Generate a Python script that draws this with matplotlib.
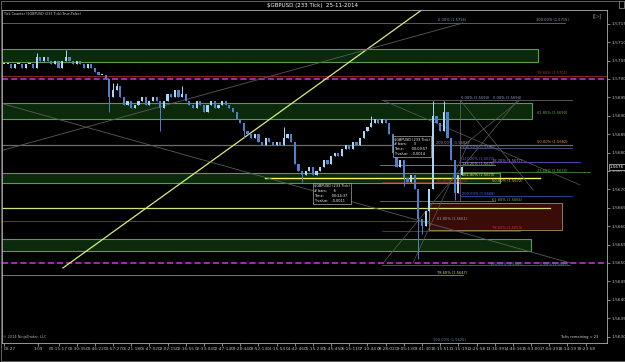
import matplotlib
matplotlib.use('Agg')
import matplotlib.pyplot as plt
from matplotlib.patches import Rectangle

# 233-tick bar closes, GBPUSD 25-11-2014
closes = [
    1.5704, 1.5704, 1.5703, 1.5704, 1.5704, 1.5703, 1.5704, 1.5704, 1.5703,
    1.5706, 1.5705, 1.5706, 1.5705, 1.5704, 1.5705, 1.5703, 1.5705, 1.5706,
    1.5705, 1.5704, 1.5705, 1.5704, 1.5703, 1.5704, 1.5703,
    1.5702, 1.5701, 1.5701, 1.5700,
    1.5695, 1.5697, 1.5698, 1.5695, 1.5693, 1.5694,
    1.5692, 1.5693, 1.5694, 1.5695, 1.5693, 1.5694, 1.5695, 1.5694, 1.5692,
    1.5694, 1.5696, 1.5695, 1.5697, 1.5695, 1.5696, 1.5694,
    1.5693, 1.5692, 1.5694, 1.5693, 1.5691, 1.5693, 1.5694, 1.5692, 1.5693,
    1.5694, 1.5693, 1.5692, 1.5691,
    1.5689, 1.5688, 1.5686, 1.5685,
    1.5684, 1.5685, 1.5683, 1.5682, 1.5684, 1.5683, 1.5682, 1.5683, 1.5682,
    1.5684, 1.5685, 1.5683,
    1.5677, 1.5675, 1.5674, 1.5675, 1.5676, 1.5674, 1.5675,
    1.5676, 1.5678, 1.5677, 1.5679, 1.5680, 1.5679, 1.5681,
    1.5682, 1.5681, 1.5683, 1.5682, 1.5684, 1.5686,
    1.5687, 1.5688, 1.5689, 1.5688, 1.5689, 1.5688, 1.5685,
    1.5680, 1.5676, 1.5678, 1.5673,
    1.5672, 1.5674, 1.5670,
    1.5662,
    1.5660, 1.5664, 1.5670,
    1.5690, 1.5688,
    1.5686, 1.5691, 1.5684,
    1.5678, 1.5669,
    1.5674, 1.5676,
]
# wicks that stick out past the bodies
spike_hi = {9: 1.5707, 17: 1.5708, 30: 1.5699, 31: 1.5699, 49: 1.5698,
            77: 1.5687, 101: 1.5690, 118: 1.5694, 121: 1.5694}
spike_lo = {29: 1.5691, 43: 1.5686, 66: 1.5684, 82: 1.5672, 110: 1.5671,
            114: 1.5651, 115: 1.5658, 124: 1.5667}

x_tick_pos = [0, 9.4] + [15 + 5 * k for k in range(30)]
x_tick_labels = ['00:27', '1:09', '00:15:17', '00:30:35', '00:46:22', '00:57:27',
                 '01:21:18', '01:47:02', '02:02:15', '02:16:55', '02:33:04',
                 '02:47:14', '03:28:44', '03:52:13', '04:15:54', '04:42:46',
                 '05:15:23', '05:45:45', '06:15:11', '07:10:44', '08:28:02',
                 '09:05:13', '09:41:30', '10:15:51', '11:15:19', '12:25:58',
                 '13:36:39', '14:46:16', '15:53:00', '17:04:39', '18:14:19',
                 '19:23:58']
y_ticks = [1.5630, 1.5635, 1.5640, 1.5645, 1.5650, 1.5655, 1.5660, 1.5665,
           1.5670, 1.5675, 1.5680, 1.5685, 1.5690, 1.5695, 1.5700, 1.5705,
           1.5710, 1.5715]

# green supply/demand zones: (low, high, start bar, end bar)
zones = [(1.57046, 1.57082, -2, 146.9),
         (1.56891, 1.56935, -2, 145.3),
         (1.56717, 1.56745, -2, 136.5),
         (1.56533, 1.56565, -2, 145.0)]
red_box = (1.56590, 1.56663, 117.0, 153.5)

# horizontal levels: (price, start bar, end bar, colour, width)
levels = [(1.57152, -2, 154.4, '#6a6a6a', 0.6),
          (1.57008, -2, 167, '#a02828', 0.6),
          (1.56943, 104.0, 156.3, '#7a7a7a', 0.5),
          (1.56821, -2, 156.3, '#6a6a6a', 0.9),
          (1.56813, 125.5, 156.3, '#5a6aa0', 0.5),
          (1.56775, 125.5, 158.5, '#6a48c0', 0.6),
          (1.56766, 103.5, 135.1, '#88b868', 0.5),
          (1.56747, 125.5, 161.3, '#58a048', 0.5),
          (1.56720, 104.0, 126.0, '#a03030', 0.5),
          (1.56731, 71.8, 147.5, '#f4f45a', 1.0),
          (1.56682, 125.5, 156.3, '#4060d0', 0.5),
          (1.56668, 103.5, 135.1, '#6a9a50', 0.5),
          (1.56650, -2, 150.2, '#d4e27a', 0.9),
          (1.56614, -2, 117.0, '#3050b0', 0.6),
          (1.56587, 104.0, 142.0, '#b03030', 0.5),
          (1.56495, 104.0, 155.8, '#5a7090', 0.5),
          (1.56468, -2, 126.3, '#8a8a8a', 0.6)]
magenta_levels = [1.5700, 1.5650]

# trend lines / fib fan: (bar0, price0, bar1, price1, colour, width)
trend_lines = [(16.2, 1.564864, 115.3, 1.571902, '#d6f078', 0.9),
               (-1.1, 1.568044, 126.3, 1.571522, '#5a5a5a', 0.6),
               (-1.1, 1.569348, 155.8, 1.565000, '#5a5a5a', 0.6),
               (104.0, 1.569430, 158.5, 1.567120, '#5a5a5a', 0.5),
               (125.5, 1.569430, 145.6, 1.566984, '#5a5a5a', 0.5),
               (125.5, 1.568125, 142.0, 1.569430, '#5a5a5a', 0.5),
               (104.3, 1.565000, 141.4, 1.569430, '#5a5a5a', 0.5),
               (112.5, 1.565000, 128.2, 1.568343, '#5a5a5a', 0.5),
               (125.5, 1.569430, 125.5, 1.566712, '#6a6a6a', 0.5)]

# fib labels: (text, bar, price, colour)
fib_labels = [('0.00% (1.5716)', 119.4, 1.571603, '#7f95c0'),
              ('100.00% (1.5715)', 146.4, 1.571603, '#9aa6c0'),
              ('78.60% (1.5701)', 146.7, 1.570163, '#c03030'),
              ('0.00% (1.5694)', 125.8, 1.569484, '#8aa0c8'),
              ('0.00% (1.5694)', 134.6, 1.569484, '#8aa0c8'),
              ('61.80% (1.5690)', 146.7, 1.569076, '#70b050'),
              ('50.00% (1.5682)', 146.7, 1.568288, '#e09040'),
              ('200.00% (1.5682)', 118.9, 1.568261, '#9090a8'),
              ('100.00% (1.5680)', 126.0, 1.568152, '#8090c0'),
              ('127.20% (1.5677)', 126.0, 1.567826, '#8058e0'),
              ('38.20% (1.5677)', 134.3, 1.567772, '#a090c0'),
              ('138.20% (1.5675)', 126.0, 1.567690, '#a0d070'),
              ('23.60% (1.5674)', 146.7, 1.567500, '#60b050'),
              ('161.80% (1.5673)', 126.0, 1.567392, '#e8e040'),
              ('50.00% (1.5672)', 119.2, 1.567228, '#d03030'),
              ('50.00% (1.5672)', 134.3, 1.567228, '#e0c040'),
              ('200.00% (1.5668)', 126.0, 1.566875, '#5070e0'),
              ('61.80% (1.5666)', 134.3, 1.566712, '#70b050'),
              ('61.80% (1.5661)', 119.2, 1.566196, '#9098b0'),
              ('78.60% (1.5659)', 134.3, 1.565951, '#d03030'),
              ('100.00% (1.5649)', 133.7, 1.564973, '#7080a0'),
              ('0.00% (1.5649)', 147.5, 1.564973, '#7080a0'),
              ('78.60% (1.5647)', 119.2, 1.564728, '#c8e060'),
              ('100.00% (1.5625)', 118.1, 1.562908, '#6a80b0')]

tooltip1 = '\\$GBPUSD (233 Tick)\n# bars:      3\nTime:       00:09:57\nY value:   -0,0014'
tooltip2 = '\\$GBPUSD (233 Tick)\n# bars:      6\nTime:       00:24:37\nY value:   -0,0011'


def draw():
    fig = plt.figure(figsize=(6.25, 3.62), dpi=100, facecolor='black')
    ax = fig.add_axes([0.0032, 0.0525, 0.968, 0.9199])
    ax.set_facecolor('black')

    for lo, hi, x0, x1 in zones:
        ax.add_patch(Rectangle((x0, lo), x1 - x0, hi - lo, facecolor='#0b2a0b',
                               edgecolor='#5e9a4c', linewidth=0.8, zorder=1))
    lo, hi, x0, x1 = red_box
    ax.add_patch(Rectangle((x0, lo), x1 - x0, hi - lo, facecolor='#3a0c08',
                           edgecolor='#8a8050', linewidth=0.7, zorder=1))

    for p, x0, x1, c, lw in levels:
        ax.plot([x0, x1], [p, p], color=c, lw=lw, zorder=2)
    for p in magenta_levels:
        ax.axhline(p, color='#c83cd8', lw=1.1, ls=(0, (4, 2)), zorder=2)
    for x0, y0, x1, y1, c, lw in trend_lines:
        ax.plot([x0, x1], [y0, y1], color=c, lw=lw, zorder=2)

    # candles
    opens = [closes[0]] + closes[:-1]
    xs = list(range(len(closes)))
    bottoms, heights, cols, wlo, whi = [], [], [], [], []
    for i, (o, c) in enumerate(zip(opens, closes)):
        b, t = min(o, c), max(o, c)
        bottoms.append(b)
        heights.append(max(t - b, 0.00003))
        cols.append('#a8d8f4' if c >= o else '#4f80cc')
        wlo.append(spike_lo.get(i, b))
        whi.append(spike_hi.get(i, t))
    ax.vlines(xs, wlo, whi, colors=cols, lw=0.7, zorder=3)
    ax.bar(xs, heights, bottom=bottoms, width=0.6, color=cols, linewidth=0, zorder=3)

    for txt, x, y, c in fib_labels:
        ax.text(x, y, txt, color=c, fontsize=2.6, ha='left', va='center', zorder=4)

    box = dict(facecolor='black', edgecolor='#d0d0d0', linewidth=0.4, pad=0.8)
    ax.text(107.2, 1.56842, tooltip1, color='white', fontsize=2.5, ha='left',
            va='top', bbox=box, zorder=5, linespacing=1.3)
    ax.text(85.2, 1.56715, tooltip2, color='white', fontsize=2.5, ha='left',
            va='top', bbox=box, zorder=5, linespacing=1.3)

    ax.set_xlim(-0.55, 165.9)
    ax.set_ylim(1.562826, 1.571875)
    ax.set_xticks(x_tick_pos)
    ax.set_xticklabels(x_tick_labels)
    ax.get_xticklabels()[0].set_horizontalalignment('left')
    ax.set_yticks(y_ticks)
    ax.set_yticklabels(['%.4f' % v for v in y_ticks])
    ax.yaxis.tick_right()
    ax.tick_params(axis='both', colors='#bdbdbd', labelsize=3.1, length=2,
                   width=0.5, pad=1)
    for s in ax.spines.values():
        s.set_color('#b0b0b0')
        s.set_linewidth(0.6)

    # current price marker
    ax.text(1.004, 1.5676, '1.5676', transform=ax.get_yaxis_transform(),
            color='white', fontsize=3.0, va='center', ha='left', zorder=6,
            bbox=dict(facecolor='black', edgecolor='white', linewidth=0.4, pad=0.6))

    fig.text(0.5, 0.986, '\\$GBPUSD (233 Tick)  25-11-2014', color='white',
             fontsize=4.0, ha='center', va='center')
    fig.text(0.006, 0.962, 'Tick Counter (\\$GBPUSD (233 Tick),True,False)',
             color='#d0d0d0', fontsize=2.4, ha='left', va='center')
    fig.text(0.955, 0.955, '[\u25b7|', color='#a0a0a0', fontsize=4.5,
             ha='center', va='center')
    fig.text(0.005, 0.068, '\u00a9 2014 NinjaTrader, LLC', color='#b0b0b0',
             fontsize=2.5, ha='left', va='center')
    fig.text(0.958, 0.068, 'Ticks remaining = 23', color='#d0d0d0',
             fontsize=2.6, ha='right', va='center')
    fig.add_artist(Rectangle((0.991, 0.978), 0.008, 0.02, transform=fig.transFigure,
                             facecolor='black', edgecolor='#c0c0c0', linewidth=0.4))
    fig.add_artist(Rectangle((0.0008, 0.003), 0.9984, 0.994, transform=fig.transFigure,
                             fill=False, edgecolor='#707070', linewidth=0.6))

    fig.savefig('out.png', dpi=100, facecolor='black')


if __name__ == '__main__':
    draw()
